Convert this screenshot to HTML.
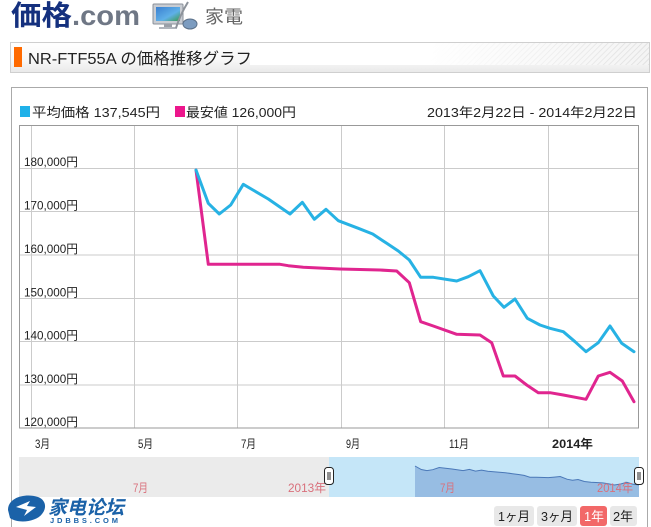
<!DOCTYPE html>
<html><head><meta charset="utf-8">
<style>
html,body{margin:0;padding:0;background:#fff;}
svg{display:block;}
text{font-family:"Liberation Sans","Noto Sans CJK JP",sans-serif;}
</style></head>
<body>
<svg width="651" height="527" viewBox="0 0 651 527" xmlns="http://www.w3.org/2000/svg">
<defs>
<linearGradient id="tg" x1="0" y1="0" x2="0" y2="1">
<stop offset="0" stop-color="#ffffff"/><stop offset="0.6" stop-color="#f7f7f7"/><stop offset="1" stop-color="#e9e9e9"/>
</linearGradient>
<linearGradient id="hf" x1="0" y1="0" x2="1" y2="0">
<stop offset="0" stop-color="#fff" stop-opacity="1"/><stop offset="0.45" stop-color="#fff" stop-opacity="1"/><stop offset="1" stop-color="#fff" stop-opacity="0"/>
</linearGradient>
<pattern id="hatch" width="4" height="4" patternUnits="userSpaceOnUse" patternTransform="rotate(45)">
<rect width="4" height="4" fill="#f4f4f4"/><line x1="0" y1="0" x2="0" y2="4" stroke="#dcdcdc" stroke-width="1.5"/>
</pattern>
<linearGradient id="scr" x1="0" y1="0" x2="1" y2="1">
<stop offset="0" stop-color="#3a7fd0"/><stop offset="0.6" stop-color="#5fb0e8"/><stop offset="1" stop-color="#3c9a50"/>
</linearGradient>
</defs>

<!-- header logo -->
<text x="11" y="25" font-size="28" font-weight="bold" fill="#14307e" textLength="61" lengthAdjust="spacingAndGlyphs">価格</text>
<text x="72" y="25" font-size="28" font-weight="bold" fill="#6f7785" textLength="68" lengthAdjust="spacingAndGlyphs">.com</text>
<!-- tv icon -->
<rect x="153" y="4" width="30" height="20" rx="1" fill="#c8ccd2" stroke="#8a9099"/>
<rect x="156" y="7" width="24" height="14" fill="url(#scr)"/>
<rect x="164" y="24" width="8" height="3" fill="#9aa0a8"/>
<rect x="159" y="27" width="18" height="2" fill="#b0b5bc"/>
<path d="M188 2 Q180 15 176 28" stroke="#8d939b" stroke-width="2" fill="none"/>
<ellipse cx="190" cy="24" rx="7" ry="5" fill="#7c9cc0" stroke="#5b7088"/>
<text x="205" y="23" font-size="18" fill="#666" textLength="38" lengthAdjust="spacingAndGlyphs">家電</text>

<!-- title box -->
<rect x="10.5" y="42.5" width="639" height="30" fill="url(#tg)" stroke="#cfcfcf"/>
<rect x="250" y="43" width="399" height="22" fill="url(#hatch)"/>
<rect x="250" y="43" width="399" height="22" fill="url(#hf)"/>
<rect x="14" y="47" width="8" height="20" fill="#ff6a00"/>
<text x="28" y="64" font-size="16" fill="#222" textLength="224" lengthAdjust="spacingAndGlyphs">NR-FTF55A の価格推移グラフ</text>

<!-- panel -->
<path d="M11.5 527 V87.5 H647.5 V527" fill="none" stroke="#aaa"/>

<!-- legend -->
<rect x="20" y="106" width="10" height="11" fill="#1fb1e9"/>
<text x="32" y="117" font-size="13" fill="#222" textLength="128" lengthAdjust="spacingAndGlyphs">平均価格 137,545円</text>
<rect x="175" y="106" width="10" height="11" fill="#ec168c"/>
<text x="186" y="117" font-size="13" fill="#222" textLength="110" lengthAdjust="spacingAndGlyphs">最安値 126,000円</text>
<text x="427" y="117" font-size="13" fill="#222" textLength="210" lengthAdjust="spacingAndGlyphs">2013年2月22日 - 2014年2月22日</text>

<!-- plot grid -->
<g stroke="#cbcbcb" stroke-width="1">
<line x1="31.5" y1="125" x2="31.5" y2="428"/>
<line x1="134.5" y1="125" x2="134.5" y2="428"/>
<line x1="237.5" y1="125" x2="237.5" y2="428"/>
<line x1="341.5" y1="125" x2="341.5" y2="428"/>
<line x1="444.5" y1="125" x2="444.5" y2="428"/>
<line x1="548.5" y1="125" x2="548.5" y2="428"/>
<line x1="19" y1="168.5" x2="638" y2="168.5"/>
<line x1="19" y1="211.5" x2="638" y2="211.5"/>
<line x1="19" y1="255" x2="638" y2="255"/>
<line x1="19" y1="298.5" x2="638" y2="298.5"/>
<line x1="19" y1="341.5" x2="638" y2="341.5"/>
<line x1="19" y1="385" x2="638" y2="385"/>
</g>
<rect x="19.5" y="125.5" width="619" height="302.5" fill="none" stroke="#999"/>

<!-- y labels -->
<g font-size="12" fill="#222">
<text x="24" y="166" textLength="54" lengthAdjust="spacingAndGlyphs">180,000円</text>
<text x="24" y="209.5" textLength="54" lengthAdjust="spacingAndGlyphs">170,000円</text>
<text x="24" y="253" textLength="54" lengthAdjust="spacingAndGlyphs">160,000円</text>
<text x="24" y="296.5" textLength="54" lengthAdjust="spacingAndGlyphs">150,000円</text>
<text x="24" y="339.5" textLength="54" lengthAdjust="spacingAndGlyphs">140,000円</text>
<text x="24" y="383" textLength="54" lengthAdjust="spacingAndGlyphs">130,000円</text>
<text x="24" y="426" textLength="54" lengthAdjust="spacingAndGlyphs">120,000円</text>
</g>

<!-- series -->
<polyline fill="none" stroke="#e0258f" stroke-width="3" stroke-linejoin="round" stroke-linecap="round"
points="196,170 208.3,264.3 280,264.3 288.3,265.7 303.3,267.3 340,269 380,270 396.7,271 409.3,282.7 420.7,321.7 433.3,326 456.7,334.3 480,335 491.7,342.7 503.3,376 515,376 526.7,385 538.3,392.7 550,392.7 563.3,395 586,399.3 598.3,376 610,372.3 622.3,381 634,401.7"/>
<polyline fill="none" stroke="#27b2e4" stroke-width="3" stroke-linejoin="round" stroke-linecap="round"
points="196,170 208.3,203.3 219.3,214 230.7,205 243.3,184.3 268.3,199 290,214 302.3,202.3 314.3,219.3 326,209.3 338.3,220.7 358.3,228.3 372.7,234 386.7,243.3 398.3,251 409.3,260 420.7,277.3 433.3,277.3 456.7,281 468.3,276.7 480,270.7 493.3,296 504,307.3 515,299 527.3,318.3 540,325 550,328.3 563.3,331.7 575,341.7 586,351.7 598.3,342.7 610,326 621.7,343.3 634,351.7"/>

<!-- x labels -->
<g font-size="12" fill="#222">
<text x="35" y="448" textLength="15" lengthAdjust="spacingAndGlyphs">3月</text>
<text x="138" y="448" textLength="15" lengthAdjust="spacingAndGlyphs">5月</text>
<text x="241" y="448" textLength="15" lengthAdjust="spacingAndGlyphs">7月</text>
<text x="346" y="448" textLength="14" lengthAdjust="spacingAndGlyphs">9月</text>
<text x="449" y="448" textLength="20" lengthAdjust="spacingAndGlyphs">11月</text>
<text x="552" y="448" font-weight="bold" textLength="41" lengthAdjust="spacingAndGlyphs">2014年</text>
</g>

<!-- navigator -->
<rect x="19" y="457" width="310" height="40" fill="#ebebeb"/>
<rect x="329" y="457" width="310" height="40" fill="#c5e6f8"/>
<polygon fill="#97bde3" points="415,497 415,466 421.3,469.5 426.9,470.6 432.7,469.7 439.2,467.5 452,469 463.1,470.6 469.4,469.4 475.5,471.1 481.5,470.1 487.8,471.3 498,472.1 505.4,472.7 512.5,473.7 518.5,474.5 524.1,475.4 529.9,477.2 536.4,477.2 548.3,477.6 554.3,477.1 560.2,476.5 567,479.2 572.5,480.3 578.1,479.5 584.4,481.5 590.9,482.2 596,482.5 602.8,482.9 608.8,483.9 614.4,485 620.7,484 626.7,482.3 632.7,484.1 639,485 639,497"/>
<polyline fill="none" stroke="#4a78b8" stroke-width="1" points="415,466 421.3,469.5 426.9,470.6 432.7,469.7 439.2,467.5 452,469 463.1,470.6 469.4,469.4 475.5,471.1 481.5,470.1 487.8,471.3 498,472.1 505.4,472.7 512.5,473.7 518.5,474.5 524.1,475.4 529.9,477.2 536.4,477.2 548.3,477.6 554.3,477.1 560.2,476.5 567,479.2 572.5,480.3 578.1,479.5 584.4,481.5 590.9,482.2 596,482.5 602.8,482.9 608.8,483.9 614.4,485 620.7,484 626.7,482.3 632.7,484.1 639,485"/>
<g font-size="12" fill="#d9707c">
<text x="133" y="492" textLength="15" lengthAdjust="spacingAndGlyphs">7月</text>
<text x="288" y="492" textLength="38" lengthAdjust="spacingAndGlyphs">2013年</text>
<text x="440" y="492" textLength="15" lengthAdjust="spacingAndGlyphs">7月</text>
<text x="597" y="492" textLength="36" lengthAdjust="spacingAndGlyphs">2014年</text>
</g>
<g stroke="#222" stroke-width="1" fill="#fff">
<rect x="324.5" y="467.5" width="9" height="17" rx="3"/>
<line x1="328" y1="472" x2="328" y2="480"/><line x1="330" y1="472" x2="330" y2="480"/>
<rect x="634.5" y="467.5" width="9" height="17" rx="3"/>
<line x1="638" y1="472" x2="638" y2="480"/><line x1="640" y1="472" x2="640" y2="480"/>
</g>
<line x1="647.5" y1="457" x2="647.5" y2="527" stroke="#aaa"/>

<!-- range buttons -->
<rect x="494" y="506" width="40" height="20" rx="3" fill="#e8e8e8"/>
<text x="498" y="521" font-size="13" fill="#222" textLength="32" lengthAdjust="spacingAndGlyphs">1ヶ月</text>
<rect x="537" y="506" width="40" height="20" rx="3" fill="#e8e8e8"/>
<text x="541" y="521" font-size="13" fill="#222" textLength="32" lengthAdjust="spacingAndGlyphs">3ヶ月</text>
<rect x="580" y="506" width="27" height="20" rx="3" fill="#f26868"/>
<text x="584" y="521" font-size="13" fill="#fff" textLength="20" lengthAdjust="spacingAndGlyphs">1年</text>
<rect x="610" y="506" width="27" height="20" rx="3" fill="#e8e8e8"/>
<text x="613" y="521" font-size="13" fill="#222" textLength="20" lengthAdjust="spacingAndGlyphs">2年</text>

<!-- watermark logo -->
<path d="M8 510 C8 497 26 493 38 497 C46 500 47 508 42 514 C36 522 18 524 10 518 Z" fill="#1b62a8"/>
<path d="M16 507 L30 501 L27 506 L36 507 L24 516 L27 510 Z" fill="#fff"/>
<text x="48" y="514" font-size="19" font-weight="bold" font-style="italic" fill="#1b62a8" textLength="76" lengthAdjust="spacingAndGlyphs">家电论坛</text>
<text x="50" y="523" font-size="7.5" font-weight="bold" fill="#1b62a8" textLength="68" lengthAdjust="spacing">JDBBS.COM</text>
</svg>
</body></html>
